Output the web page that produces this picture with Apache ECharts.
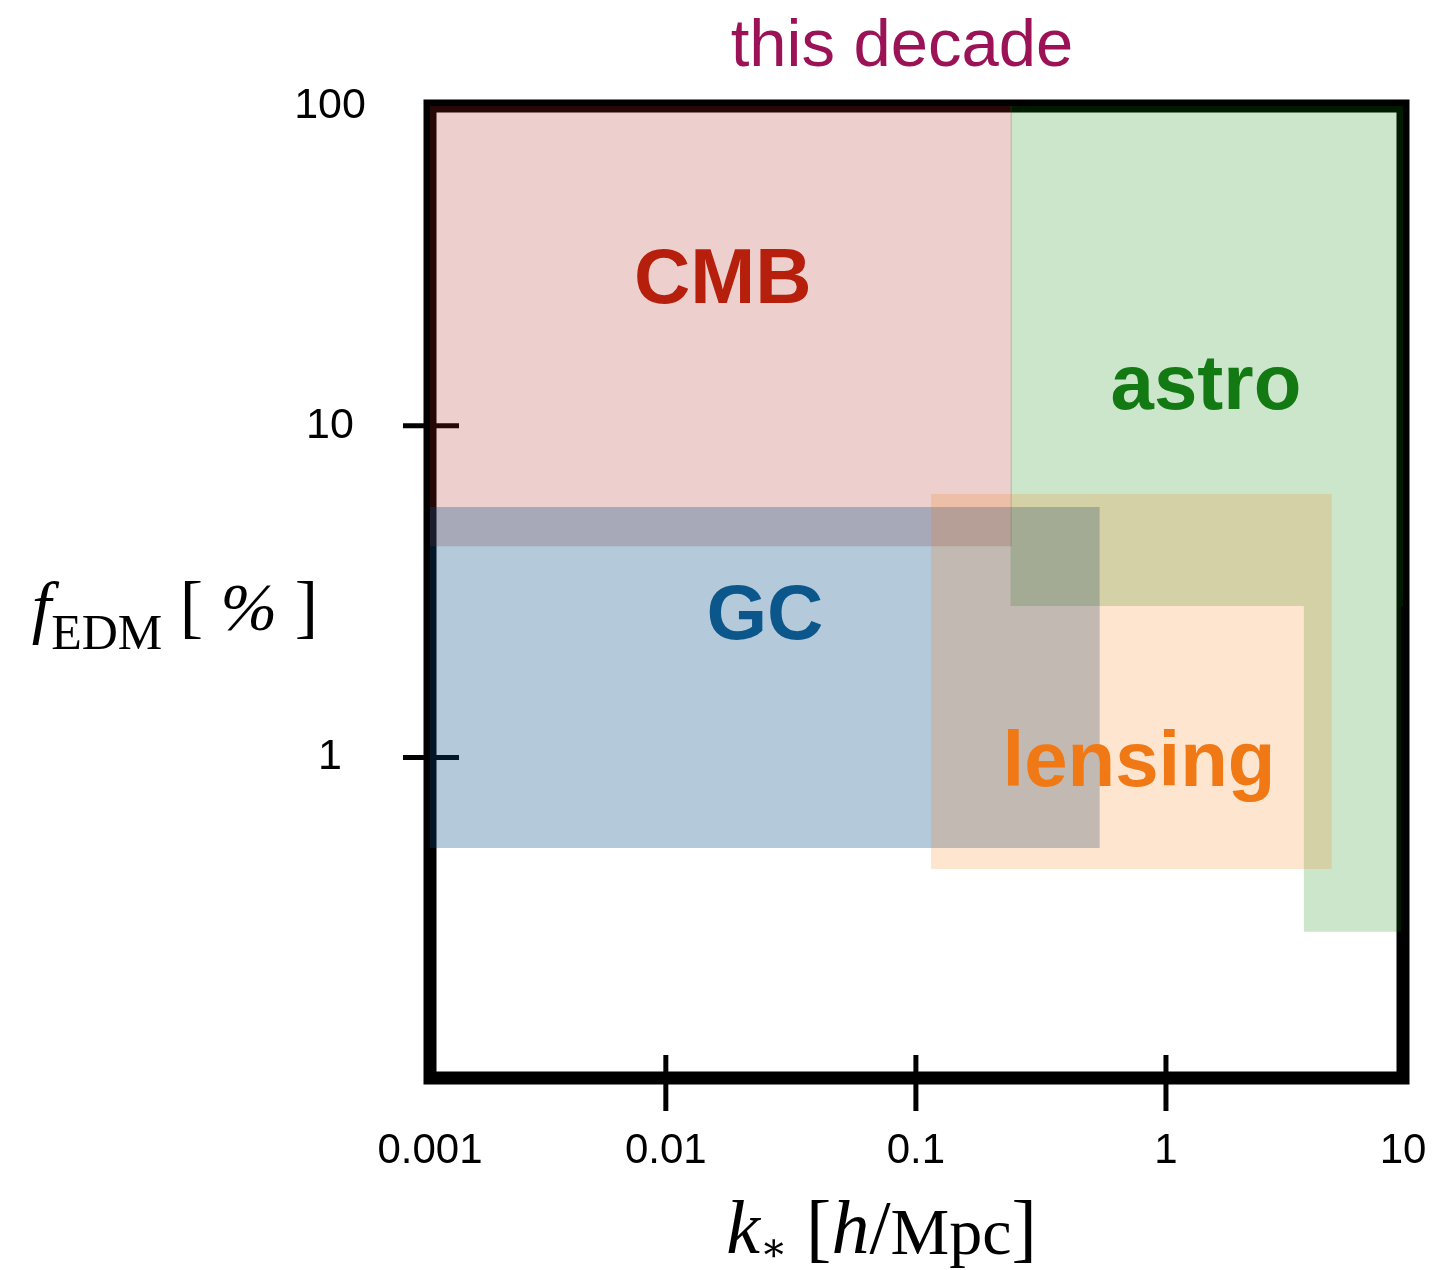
<!DOCTYPE html>
<html><head><meta charset="utf-8">
<script src="https://cdn.jsdelivr.net/npm/echarts@6/dist/echarts.min.js"></script>
<style>html,body{margin:0;padding:0;background:#fff}#c{width:1449px;height:1270px}</style>
</head><body><div id="c"></div>
<script>
// Axis extents (the frame edges)
const kRange = [0.00114, 8.87];
const fRange = [0.108, 92];

// Tick marks and tick labels
const kTicks = [0.01, 0.1, 1];
const fTicks = [1, 10];
const kLabelPow = [-3, -2, -1, 0, 1];
const kLabelText = ['0.001', '0.01', '0.1', '1', '10'];
const fLabelPow = [-1, 0, 1, 2];
const fLabelText = ['', '1', '10', '100'];

// Shaded regions (boxes), in data units
const boxRegion = ['CMB', 'astro', 'astro', 'GC', 'lensing'];
const boxKLo = [0.001, 0.239, 3.56, 0.001, 0.115];
const boxKHi = [0.242, 9.3, 8.7, 0.543, 4.6];
const boxFLo = [4.33, 2.86, 0.298, 0.533, 0.461];
const boxFHi = [100, 100, 2.86, 5.69, 6.22];

// Region labels
const labelText = ['CMB', 'astro', 'GC', 'lensing'];
const labelK = [0.0169, 1.445, 0.0249, 0.78];
const labelF = [27.3, 13.0, 2.65, 0.955];

const regionFill = {
  CMB: 'rgba(174,40,30,0.22)',
  astro: 'rgba(0,128,0,0.2)',
  GC: 'rgba(5,75,132,0.3)',
  lensing: 'rgba(245,125,20,0.2)'
};
const regionText = {CMB: '#b51f0b', astro: '#137a13', GC: '#0b578b', lensing: '#f07915'};

const SANS = '"Liberation Sans", Arial, Helvetica, sans-serif';
const SERIF = '"Liberation Serif", "Times New Roman", serif';

function powLabel(v, pows, texts) {
  const p = Math.round(Math.log10(v));
  const i = pows.indexOf(p);
  return i >= 0 ? texts[i] : '';
}

const chart = echarts.init(document.getElementById('c'), null, {renderer: 'canvas'});
chart.setOption({
  animation: false,
  backgroundColor: '#fff',
  grid: {
    left: 430, right: 46, top: 106, bottom: 192,
    show: true, borderColor: '#000', borderWidth: 13, backgroundColor: 'transparent',
    containLabel: false, outerBoundsMode: 'none'
  },
  graphic: [{
    type: 'text', x: 902, y: 48,
    style: {text: 'this decade', fill: '#9b1356', fontSize: 67, fontFamily: SANS, align: 'center', verticalAlign: 'middle'}
  }],
  xAxis: {
    type: 'log', logBase: 10, min: kRange[0], max: kRange[1],
    axisLine: {show: false}, axisTick: {show: false}, splitLine: {show: false}, minorTick: {show: false},
    axisLabel: {
      fontSize: 42, color: '#000', fontFamily: SANS, margin: 52,
      showMinLabel: true, showMaxLabel: true,
      formatter: v => powLabel(v, kLabelPow, kLabelText)
    },
    name: '{it|k}{sub|∗}{rm| [}{it|h}{rm|/}{mpc|Mpc}{rm|]}',
    nameLocation: 'middle', nameGap: 117, nameMoveOverlap: false,
    nameTextStyle: {
      padding: [0, 70, 0, 0],
      rich: {
        it: {fontFamily: SERIF, fontStyle: 'italic', fontSize: 76, color: '#000', lineHeight: 76, verticalAlign: 'middle'},
        rm: {fontFamily: SERIF, fontSize: 76, color: '#000', lineHeight: 76, verticalAlign: 'middle'},
        mpc: {fontFamily: SERIF, fontSize: 66, color: '#000', lineHeight: 76, verticalAlign: 'middle', padding: [8, 0, 0, 0]},
        sub: {fontFamily: '"DejaVu Serif", serif', fontSize: 40, color: '#000', lineHeight: 40, verticalAlign: 'middle', padding: [36, 0, 0, 0]}
      }
    }
  },
  yAxis: {
    type: 'log', logBase: 10, min: fRange[0], max: fRange[1],
    axisLine: {show: false}, axisTick: {show: false}, splitLine: {show: false}, minorTick: {show: false},
    axisLabel: {
      fontSize: 43, color: '#000', fontFamily: SANS, margin: 100, align: 'center',
      showMinLabel: true, showMaxLabel: true,
      formatter: v => powLabel(v, fLabelPow, fLabelText)
    },
    name: '{f|f}{sub|EDM}{rm| [ }{pc|%}{rm| ]}',
    nameLocation: 'middle', nameRotate: 0, nameGap: 112, nameMoveOverlap: false,
    nameTextStyle: {
      padding: [40, 0, 0, 0],
      rich: {
        f: {fontFamily: SERIF, fontStyle: 'italic', fontSize: 70, color: '#000', lineHeight: 70, verticalAlign: 'middle'},
        rm: {fontFamily: SERIF, fontSize: 70, color: '#000', lineHeight: 70, verticalAlign: 'middle'},
        pc: {fontFamily: SERIF, fontStyle: 'italic', fontSize: 68, color: '#000', lineHeight: 70, verticalAlign: 'middle'},
        sub: {fontFamily: SERIF, fontSize: 50, color: '#000', lineHeight: 50, verticalAlign: 'middle', padding: [48, 0, 0, 0]}
      }
    }
  },
  series: [
    {
      type: 'custom', name: 'ticks-k', z: 1, clip: false, silent: true,
      data: kTicks.map(v => [v, fRange[0]]),
      renderItem: (params, api) => {
        const p = api.coord([api.value(0), api.value(1)]);
        return {type: 'line', shape: {x1: p[0], y1: p[1] - 23, x2: p[0], y2: p[1] + 33}, style: {stroke: '#000', lineWidth: 5}};
      }
    },
    {
      type: 'custom', name: 'ticks-f', z: 1, clip: false, silent: true,
      data: fTicks.map(v => [kRange[0], v]),
      renderItem: (params, api) => {
        const p = api.coord([api.value(0), api.value(1)]);
        return {type: 'line', shape: {x1: p[0] - 27, y1: p[1], x2: p[0] + 29, y2: p[1]}, style: {stroke: '#000', lineWidth: 5}};
      }
    },
    {
      type: 'custom', name: 'regions', z: 2, clip: true, silent: true,
      encode: {x: [0, 1], y: [2, 3]},
      data: boxRegion.map((r, i) => [boxKLo[i], boxKHi[i], boxFLo[i], boxFHi[i]]),
      renderItem: (params, api) => {
        const a = api.coord([api.value(0), api.value(3)]);
        const b = api.coord([api.value(1), api.value(2)]);
        return {
          type: 'rect',
          shape: {x: a[0], y: a[1], width: b[0] - a[0], height: b[1] - a[1]},
          style: {fill: regionFill[boxRegion[params.dataIndex]]}
        };
      }
    },
    {
      type: 'custom', name: 'labels', z: 3, clip: false, silent: true,
      data: labelText.map((t, i) => [labelK[i], labelF[i]]),
      renderItem: (params, api) => {
        const p = api.coord([api.value(0), api.value(1)]);
        const t = labelText[params.dataIndex];
        return {
          type: 'text', x: p[0], y: p[1],
          style: {text: t, fill: regionText[t], fontSize: 78, fontWeight: 'bold', fontFamily: SANS, align: 'center', verticalAlign: 'middle'}
        };
      }
    }
  ]
});
</script>
</body></html>
